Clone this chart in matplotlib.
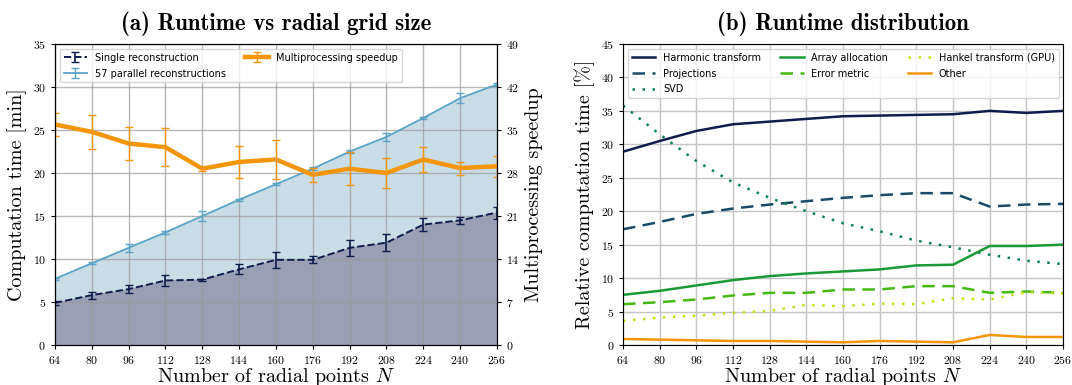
"""Runtime vs radial grid size and runtime distribution, two panels."""

import matplotlib

matplotlib.use("Agg")
import matplotlib.pyplot as plt
import numpy as np

plt.rcParams["font.family"] = "cmr10"
plt.rcParams["mathtext.fontset"] = "cm"
plt.rcParams["axes.formatter.use_mathtext"] = True

N = np.array([64, 80, 96, 112, 128, 144, 160, 176, 192, 208, 224, 240, 256])

# (a) runtimes in minutes
single_mean = [4.9, 5.8, 6.5, 7.5, 7.6, 8.8, 9.9, 9.9, 11.3, 11.9, 14.0, 14.5, 15.4]
single_err = [0.2, 0.4, 0.5, 0.6, 0.1, 0.6, 0.9, 0.4, 0.9, 1.0, 0.8, 0.4, 0.7]
parallel_mean = [7.7, 9.5, 11.3, 13.1, 15.0, 16.9, 18.7, 20.5, 22.5, 24.2, 26.4, 28.7, 30.3]
parallel_err = [0.1, 0.1, 0.5, 0.2, 0.6, 0.1, 0.1, 0.2, 0.2, 0.5, 0.1, 0.6, 0.2]
speedup_mean = [35.9, 34.7, 32.8, 32.2, 28.7, 29.8, 30.2, 27.7, 28.7, 28.0, 30.2, 28.8, 29.1]
speedup_err = [1.9, 2.8, 2.7, 3.1, 0.4, 2.6, 3.2, 1.1, 2.7, 2.5, 2.0, 1.05, 1.7]

# (b) relative computation time in percent
harmonic = [28.9, 30.5, 32.0, 33.0, 33.4, 33.8, 34.2, 34.3, 34.4, 34.5, 35.0, 34.7, 35.0]
projections = [17.3, 18.4, 19.6, 20.4, 21.0, 21.5, 22.0, 22.4, 22.7, 22.7, 20.7, 21.0, 21.1]
svd = [35.8, 31.5, 27.5, 24.3, 22.0, 20.0, 18.2, 17.0, 15.6, 14.6, 13.5, 12.6, 12.1]
allocation = [7.5, 8.1, 8.9, 9.7, 10.3, 10.7, 11.0, 11.3, 11.9, 12.0, 14.8, 14.8, 15.0]
error_metric = [6.1, 6.4, 6.8, 7.4, 7.8, 7.8, 8.3, 8.3, 8.8, 8.8, 7.8, 8.0, 7.8]
hankel = [3.6, 4.1, 4.4, 4.8, 5.1, 6.0, 5.8, 6.2, 6.1, 7.0, 6.8, 7.9, 7.7]
other = [0.9, 0.8, 0.7, 0.6, 0.6, 0.5, 0.4, 0.6, 0.5, 0.4, 1.5, 1.2, 1.2]

navy = "#101c4c"
lightblue = "#5aa4c6"
orange = "#f5960a"

fig = plt.figure(figsize=(10.72, 3.85), dpi=100)
ax = fig.add_axes([0.0513, 0.1039, 0.4123, 0.7818])
ax2 = ax.twinx()
bx = fig.add_axes([0.5812, 0.1039, 0.4104, 0.7818])

legend_font = {"family": "DejaVu Sans", "size": 7}
label_size = 14.5
title_size = 16.5

# ---- panel (a)
ax.fill_between(N, 0, parallel_mean, color="#c9dde7", zorder=1)
ax.fill_between(N, 0, single_mean, color="#9a9fb6", zorder=1.5)
ax.errorbar(N, single_mean, yerr=single_err, color=navy, ls="--", lw=1.4,
            capsize=3, elinewidth=1.2, label="Single reconstruction", zorder=3)
ax.errorbar(N, parallel_mean, yerr=parallel_err, color=lightblue, lw=1.3,
            capsize=3, elinewidth=1.0, label="57 parallel reconstructions", zorder=3)
ax.set_xlim(64, 256)
ax.set_ylim(0, 35)
ax.set_xticks(N)
ax.set_yticks(np.arange(0, 36, 5))
ax.grid(True, color="#999999", lw=1.0, alpha=0.7)
for g in ax.get_xgridlines() + ax.get_ygridlines():
    g.set_zorder(2)
ax.set_xlabel("Number of radial points $N$", fontsize=label_size, labelpad=0)
ax.set_ylabel("Computation time [min]", fontsize=label_size, labelpad=4)
ax.set_title("(a) Runtime vs radial grid size", fontsize=title_size, family="cmb10", pad=10)
ax.tick_params(labelsize=8.5, length=3)

ax2.errorbar(N, speedup_mean, yerr=speedup_err, color=orange, lw=3.2,
             capsize=3, elinewidth=1.0, label="Multiprocessing speedup")
ax2.set_ylim(0, 49)
ax2.set_yticks(np.arange(0, 50, 7))
ax2.set_ylabel("Multiprocessing speedup", fontsize=label_size, labelpad=4)
ax2.tick_params(labelsize=8.5, length=3)

h1, l1 = ax.get_legend_handles_labels()
h2, l2 = ax2.get_legend_handles_labels()
ax2.legend(h1 + h2, l1[:2] + l2, ncol=2, loc="upper left", prop=legend_font,
           borderaxespad=0.5, handlelength=2.4, labelspacing=0.6, columnspacing=2.0)

# ---- panel (b)
series = [
    ("Harmonic transform", harmonic, navy, "-"),
    ("Projections", projections, "#1b4a68", (0, (5, 3))),
    ("SVD", svd, "#0e7d5c", (0, (1, 3))),
    ("Array allocation", allocation, "#1a9a36", "-"),
    ("Error metric", error_metric, "#45b812", (0, (5, 3))),
    ("Hankel transform (GPU)", hankel, "#c6de1a", (0, (1, 3))),
    ("Other", other, orange, "-"),
]
for name, vals, col, ls in series:
    bx.plot(N, vals, color=col, ls=ls, lw=1.8, label=name)
bx.set_xlim(64, 256)
bx.set_ylim(0, 45)
bx.set_xticks(N)
bx.set_yticks(np.arange(0, 46, 5))
bx.grid(True, color="#c4c4c4", lw=1.0)
bx.set_xlabel("Number of radial points $N$", fontsize=label_size, labelpad=0)
bx.set_ylabel("Relative computation time [%]", fontsize=label_size, labelpad=4)
bx.set_title("(b) Runtime distribution", fontsize=title_size, family="cmb10", pad=10)
bx.tick_params(labelsize=8.5, length=3)
bx.legend(ncol=3, loc="upper left", prop=legend_font, borderaxespad=0.5,
          handlelength=2.4, labelspacing=0.6, columnspacing=2.0)

fig.savefig("out.png", dpi=100)
